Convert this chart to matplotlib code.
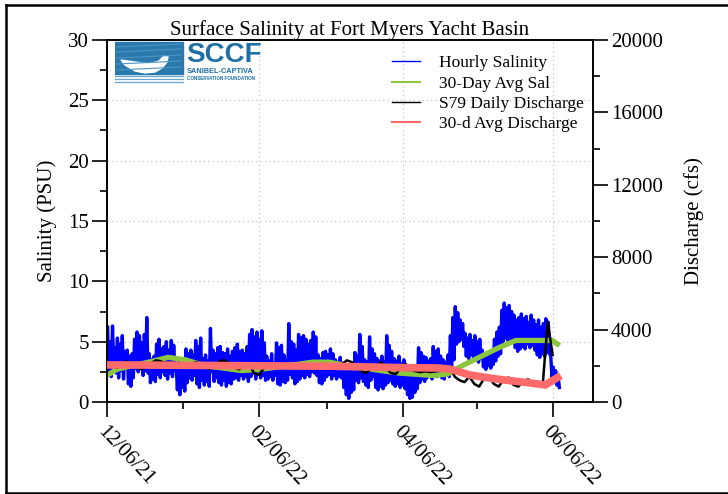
import numpy as np
import pandas as pd
import matplotlib
matplotlib.use("Agg")
import matplotlib.pyplot as plt
import matplotlib.dates as mdates
from matplotlib.lines import Line2D
from matplotlib.patches import Rectangle, Polygon

plt.rcParams['font.family'] = ['Liberation Serif', 'DejaVu Serif']

START = pd.Timestamp('2021-12-06')

# hourly salinity, kept as one high and one low per day (PSU)
sal_high = [6.2, 5.0, 6.3, 4.5, 5.3, 4.8, 5.5, 4.2, 4.3, 3.8, 4.0,
            5.2, 5.8, 5.5, 4.9, 5.6, 7.0, 4.0, 3.5, 3.8,
            4.8, 5.2, 4.4, 4.6, 5.0, 4.3, 5.1, 4.7, 3.0, 3.5, 2.8, 3.2,
            4.4, 4.0, 4.3, 3.9, 5.1, 4.6, 5.3, 3.6, 3.9, 3.4, 6.1,
            4.3, 4.0, 4.5, 4.6, 4.1, 4.0, 4.4, 3.8, 4.2,
            4.5, 4.8, 4.2, 4.3, 4.0, 4.6, 5.6, 6.0, 5.4, 5.8, 5.2,
            5.9, 4.9, 3.8, 3.4, 4.0, 3.2, 4.9, 4.5, 4.7, 3.9, 3.5,
            6.5, 5.0, 4.8, 4.3, 5.6, 5.3, 5.5, 5.2, 4.8, 5.1, 5.8, 5.4,
            3.9, 3.6, 4.1, 4.2, 3.9, 4.4, 4.0, 3.5, 3.3, 3.7,
            3.2, 2.8, 3.0, 2.7, 3.1, 4.1, 3.8, 5.6, 4.6, 3.5, 3.3, 5.4, 4.4,
            4.0, 3.6, 3.4, 3.8, 3.3, 5.5, 4.7, 4.2, 3.6, 3.4, 3.8, 3.2, 3.5,
            2.9, 2.6, 2.4, 2.8, 3.0, 4.5, 4.1, 3.8, 3.7, 3.4, 3.6,
            4.6, 4.2, 4.4, 3.8, 3.5, 3.3, 3.9, 5.5, 7.0, 7.9, 7.4, 6.8, 6.5,
            5.7, 5.3, 5.6, 5.1, 5.5, 5.0, 5.2, 4.3, 3.9, 4.1, 3.8, 4.2,
            5.2, 5.8, 6.2, 7.6, 8.2, 7.8, 8.0, 7.5, 7.2, 6.8, 7.0,
            7.3, 6.9, 7.1, 6.6, 7.2, 6.8, 6.4, 6.8, 6.2, 6.5, 6.9, 6.6,
            3.8, 2.9, 2.6, 2.2]
sal_low = [2.5, 2.1, 3.0, 2.4, 2.0, 2.6, 1.9, 2.8, 1.5, 1.3, 2.0,
           2.8, 2.5, 3.0, 2.2, 2.6, 2.4, 1.6, 1.9, 1.7,
           2.3, 2.0, 2.5, 2.2, 1.9, 2.4, 2.1, 2.6, 1.0, 0.6, 1.2, 0.9,
           1.6, 2.0, 1.8, 2.2, 1.5, 1.2, 1.8, 1.4, 1.7, 1.3, 2.5,
           1.7, 2.0, 1.6, 1.4, 1.8, 1.3, 1.6, 1.5, 1.9,
           2.0, 1.8, 2.2, 1.9, 2.1, 1.7, 2.1, 2.4, 1.9, 2.6, 2.0,
           2.2, 1.8, 1.9, 2.1, 1.8, 2.2, 1.5, 1.4, 1.7, 1.6, 1.8,
           2.3, 2.0, 1.5, 1.7, 1.9, 2.2, 2.0, 2.3, 2.1, 2.5, 2.4, 2.2,
           1.6, 1.5, 1.8, 2.1, 2.3, 1.9, 2.2, 1.9, 2.1, 2.0,
           1.2, 0.6, 0.3, 0.8, 1.0, 1.8, 1.6, 2.0, 1.7, 1.4, 1.2, 1.8, 2.1,
           1.2, 1.0, 1.3, 1.1, 1.4, 1.6, 1.8, 1.5, 1.3, 1.5, 1.2, 1.4, 1.1,
           0.6, 0.3, 0.4, 0.8, 1.1, 1.6, 1.9, 1.7, 2.0, 2.2, 1.9,
           2.3, 2.1, 2.4, 2.0, 1.9, 2.2, 2.1, 2.8, 3.5, 4.8, 5.0, 5.2, 4.6,
           3.8, 3.6, 3.9, 3.7, 3.5, 3.3, 3.6, 2.9, 2.7, 3.0, 2.8, 3.1,
           3.4, 3.8, 4.0, 5.0, 5.3, 5.1, 4.9, 5.2, 4.5, 4.2, 4.4,
           4.6, 4.4, 4.8, 4.5, 4.7, 4.3, 3.9, 3.7, 4.0, 3.8, 4.1, 4.0,
           2.0, 1.8, 1.4, 1.2]

# 30-day average salinity (day after start, PSU)
avg_sal_day = [0, 4, 10, 17, 25, 32, 40, 48, 55, 62, 70, 77, 84, 91, 98,
               105, 112, 119, 126, 133, 139, 145, 152, 160, 167, 175, 182, 184]
avg_sal = [2.2, 2.7, 3.0, 3.3, 3.7, 3.5, 3.0, 2.8, 2.6, 2.7, 2.9, 3.1, 3.3, 3.3, 3.0,
           2.8, 2.6, 2.4, 2.3, 2.2, 2.3, 3.0, 3.7, 4.5, 5.1, 5.1, 5.1, 4.8]

# S79 discharge, every second day (cfs)
discharge = [2100, 2000, 1900, 2050, 2250, 2100, 1950, 1800, 2000, 2150, 2300,
             2250, 2100, 1900, 2000, 2100, 1950, 2050, 2200, 2150, 1900,
             1850, 2000, 2250, 2300, 2100, 1900, 1800, 2000, 2150, 1600,
             1500, 1850, 2050, 2000, 1850, 1900, 2100, 2000, 1950, 2050,
             2000, 1900, 1850, 2000, 2100, 2000, 1900, 2100, 2300, 2200,
             2000, 1700, 1600, 1900, 2000, 2200, 1850, 1600, 1550, 1900,
             2100, 1800, 1700, 1650, 1700, 1650, 1700, 1750, 1900, 1950,
             1400, 1200, 1100, 1400, 1000, 850, 1300, 1400, 1000, 850,
             1250, 1350, 950, 850, 1150, 1250, 1050, 950,
             1000, 4450, 2600]

# 30-day average discharge (day after start, cfs)
avg_q_day = [0, 30, 60, 90, 120, 135, 140, 148, 155, 162, 173, 179, 184]
avg_q = [2050, 2030, 2000, 1980, 1900, 1880, 1820, 1500, 1350, 1220, 1050, 940, 1350]

x_major = ['2021-12-06', '2022-02-06', '2022-04-06', '2022-06-06']
x_minor = ['2022-01-06', '2022-03-06', '2022-05-06']


def day_dates(days):
    return START + pd.to_timedelta(np.asarray(days, dtype=float), unit='D')


n = min(len(sal_high), len(sal_low))
t = np.empty(2 * n)
t[0::2] = np.arange(n) + 0.25
t[1::2] = np.arange(n) + 0.75
v = np.empty(2 * n)
v[0::2] = sal_high[:n]
v[1::2] = sal_low[:n]

fig = plt.figure(figsize=(7.28, 4.94), dpi=100)
ax = fig.add_axes([107 / 728, 92 / 494, 486 / 728, 362 / 494])
ax2 = ax.twinx()

ax.plot(mdates.date2num(day_dates(t)), v, color='#0000ff', lw=2.4, zorder=2)
ax.plot(mdates.date2num(day_dates(avg_sal_day)), avg_sal, color='#8cc63f', lw=3.8, zorder=3)
ax2.plot(mdates.date2num(day_dates(np.arange(len(discharge)) * 2)), discharge,
         color='black', lw=1.8, zorder=2)
ax2.plot(mdates.date2num(day_dates(avg_q_day)), avg_q, color='#ff6b6b', lw=5.5, zorder=3)

ax.set_xlim(mdates.date2num(START), mdates.date2num(START + pd.Timedelta(days=198.5)))
ax.set_ylim(0, 30)
ax2.set_ylim(0, 20000)

ax.set_xticks(mdates.date2num(pd.to_datetime(x_major)))
ax.set_xticklabels(pd.to_datetime(x_major).strftime('%m/%d/%y'),
                   rotation=-47, ha='left', va='top', rotation_mode='anchor')
ax.set_xticks(mdates.date2num(pd.to_datetime(x_minor)), minor=True)
ax.set_yticks(np.arange(0, 31, 5))
ax.set_yticks(np.arange(0, 31, 2.5), minor=True)
ax2.set_yticks(np.arange(0, 20001, 4000))
ax2.set_yticks(np.arange(0, 20001, 2000), minor=True)

for a in (ax, ax2):
    a.tick_params(which='major', direction='out', length=11, width=1.2,
                  labelsize=15, pad=2)
    a.tick_params(which='minor', direction='out', length=5, width=1.2)
    for s in a.spines.values():
        s.set_linewidth(1.2)
ax.tick_params(axis='x', pad=4)

ax.grid(True, which='major', linestyle=(0, (1, 2.5)), color='#c4c4c4', lw=0.9)
ax.set_axisbelow(True)

ax.set_title('Surface Salinity at Fort Myers Yacht Basin', fontsize=15, pad=2)
ax.set_ylabel('Salinity (PSU)', fontsize=15, labelpad=8)
ax2.set_ylabel('Discharge (cfs)', fontsize=15, labelpad=15)

handles = [Line2D([], [], color='#0000ff', lw=1),
           Line2D([], [], color='#8cc63f', lw=1.5),
           Line2D([], [], color='black', lw=1),
           Line2D([], [], color='#ff6b6b', lw=1.5)]
labels = ['Hourly Salinity', '30-Day Avg Sal', 'S79 Daily Discharge', '30-d Avg Discharge']
ax2.legend(handles, labels, loc='upper right', bbox_to_anchor=(1.0, 0.982),
           frameon=False, fontsize=12.5, handlelength=1.65, handletextpad=1.1,
           labelspacing=0.24, borderaxespad=0.1)

# SCCF logo drawn with simple shapes
lg = fig.add_axes([115 / 728, 1 - 84 / 494, 152 / 728, 43 / 494])
lg.set_xlim(0, 152)
lg.set_ylim(0, 43)
lg.axis('off')
lg.add_patch(Rectangle((0, 10), 68, 32, color='#2a79ad'))
for yy in (14, 20, 26, 32, 37):
    lg.plot([2, 66], [yy, yy + 3], color='#4b95c4', lw=0.8)
lg.add_patch(Polygon([(6, 24), (20, 22), (34, 20), (44, 23), (49, 28), (53, 27),
                      (52, 22), (47, 16), (40, 12), (30, 11), (20, 13), (10, 19)],
                     color='white'))
for yy in (2, 5, 8):
    lg.plot([0, 68], [yy, yy], color='#6aa7cf', lw=0.9)
lg.text(71, 42, 'SCCF', fontsize=20, fontweight='bold', color='#1d6fa5',
        family='Liberation Sans', va='top', ha='left')
lg.text(72, 13, 'SANIBEL-CAPTIVA', fontsize=5.3, fontweight='bold', color='#1d6fa5',
        family='Liberation Sans', va='center', ha='left')
lg.text(72, 5.5, 'CONSERVATION FOUNDATION', fontsize=3.3, fontweight='bold',
        color='#1d6fa5', family='Liberation Sans', va='center', ha='left')

# outer frame of the picture
for xs, ys in (([6 / 728, 6 / 728], [1 / 494, 1 - 5 / 494]),
               ([6 / 728, 1], [1 - 5 / 494, 1 - 5 / 494]),
               ([6 / 728, 1], [1 / 494, 1 / 494])):
    fig.add_artist(Line2D(xs, ys, color='black', lw=1.8, transform=fig.transFigure))

fig.savefig('out.png', dpi=100)
